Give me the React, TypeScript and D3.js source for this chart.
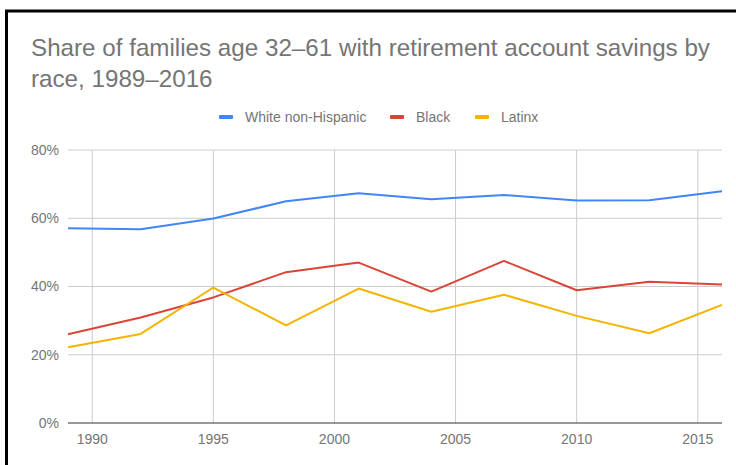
import React from "react";
import * as d3 from "d3";

const years = [1989, 1992, 1995, 1998, 2001, 2004, 2007, 2010, 2013, 2016];
const whiteValues = [57.1, 56.8, 59.9, 65.0, 67.3, 65.6, 66.8, 65.2, 65.3, 67.9];
const blackValues = [26.0, 30.9, 36.8, 44.2, 47.0, 38.5, 47.5, 38.9, 41.4, 40.6];
const latinxValues = [22.2, 26.1, 39.7, 28.6, 39.4, 32.6, 37.6, 31.4, 26.3, 34.6];
const seriesNames = ["White non-Hispanic", "Black", "Latinx"];
const seriesColors = ["#4285F4", "#DB4437", "#F4B400"];
const yTicks = [0, 20, 40, 60, 80];
const xTicks = [1990, 1995, 2000, 2005, 2010, 2015];
const titleLines = [
  "Share of families age 32\u201361 with retirement account savings by",
  "race, 1989\u20132016",
];

export default function App() {
  const W = 736;
  const H = 465;
  const left = 68;
  const right = 722;
  const top = 150;
  const bottom = 423;
  const x = d3.scaleLinear().domain([1989, 2016]).range([left, right]);
  const y = d3.scaleLinear().domain([0, 80]).range([bottom, top]);
  const line = d3
    .line<number>()
    .x((_, i) => x(years[i]))
    .y((d) => y(d));
  const allSeries = [whiteValues, blackValues, latinxValues];
  const legendX = [219, 390, 475];
  const font = "'Liberation Sans', Arial, sans-serif";

  return (
    <svg
      width={W}
      height={H}
      style={{ position: "absolute", left: 0, top: 0, background: "#fff" }}
      fontFamily={font}
    >
      <rect x={0} y={0} width={W} height={H} fill="#fff" />
      {/* border */}
      <line x1={6.5} y1={10} x2={6.5} y2={H} stroke="#000" strokeWidth={3} />
      <line x1={5} y1={11} x2={W} y2={11} stroke="#000" strokeWidth={3} />
      {/* title */}
      {titleLines.map((t, i) => (
        <text key={i} x={31} y={56 + i * 30.7} fontSize={24.2} fill="#757575">
          {t}
        </text>
      ))}
      {/* legend */}
      {seriesNames.map((n, i) => (
        <g key={n}>
          <rect x={legendX[i]} y={115} width={14} height={4} rx={1} fill={seriesColors[i]} />
          <text x={legendX[i] + 26} y={122} fontSize={14} fill="#757575">
            {n}
          </text>
        </g>
      ))}
      {/* grid */}
      {yTicks.map((t) => (
        <g key={t}>
          {t !== 0 && (
            <line x1={left} x2={right} y1={y(t)} y2={y(t)} stroke="#ccc" strokeWidth={1} />
          )}
          <text
            x={59}
            y={y(t)}
            dy="0.35em"
            textAnchor="end"
            fontSize={14}
            fill="#757575"
          >
            {t}%
          </text>
        </g>
      ))}
      {xTicks.map((t) => (
        <g key={t}>
          <line x1={x(t)} x2={x(t)} y1={top} y2={bottom} stroke="#ccc" strokeWidth={1} />
          <text x={x(t)} y={444} textAnchor="middle" fontSize={14} fill="#757575">
            {t}
          </text>
        </g>
      ))}
      {/* lines */}
      {allSeries.map((s, i) => (
        <path
          key={i}
          d={line(s) || ""}
          fill="none"
          stroke={seriesColors[i]}
          strokeWidth={2}
          strokeLinejoin="round"
        />
      ))}
      <line x1={left} x2={right} y1={bottom} y2={bottom} stroke="#333" strokeWidth={1} />
    </svg>
  );
}
